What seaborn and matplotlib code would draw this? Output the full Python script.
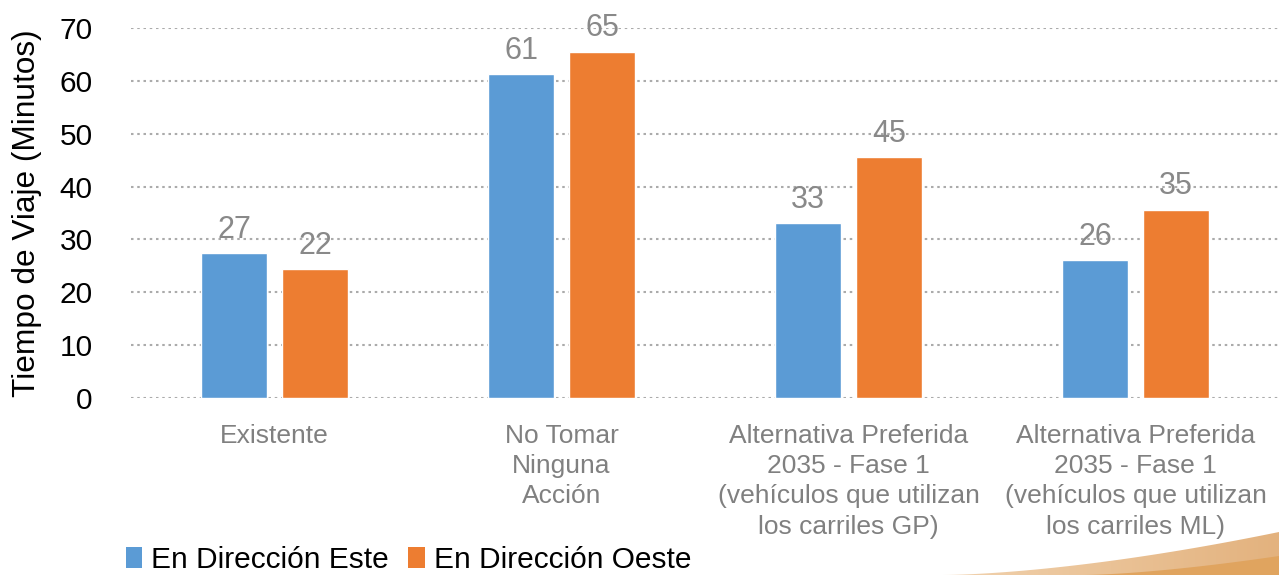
"""Travel time bar chart (Tiempo de Viaje) recreated with seaborn."""

import matplotlib
matplotlib.use("Agg")
import matplotlib.pyplot as plt
import numpy as np
import pandas as pd
import seaborn as sns
from matplotlib.patches import Patch, Polygon

categories = [
    "Existente",
    "No Tomar\nNinguna\nAcción",
    "Alternativa Preferida\n2035 - Fase 1\n(vehículos que utilizan\nlos carriles GP)",
    "Alternativa Preferida\n2035 - Fase 1\n(vehículos que utilizan\nlos carriles ML)",
]
series = ["En Dirección Este", "En Dirección Oeste"]
este_values = [27.4, 61.3, 33.1, 26.1]
oeste_values = [24.4, 65.5, 45.6, 35.6]
este_labels = ["27", "61", "33", "26"]
oeste_labels = ["22", "65", "45", "35"]
colors = ["#5B9BD5", "#ED7D31"]

df = pd.DataFrame({
    "categoria": categories * 2,
    "serie": [series[0]] * 4 + [series[1]] * 4,
    "minutos": este_values + oeste_values,
})

sns.set_theme(style="white")
plt.rcParams["font.family"] = ["Liberation Sans", "DejaVu Sans"]

fig = plt.figure(figsize=(12.79, 5.75), dpi=100)
ax = fig.add_axes([131 / 1279, 1 - 398 / 575, 1148 / 1279, 370 / 575])

sns.barplot(
    data=df, x="categoria", y="minutos", hue="serie",
    palette=colors, width=0.564, gap=0.185, ax=ax, legend=False,
    saturation=1, errorbar=None,
)

ax.set_xlim(-0.5, 3.5)
ax.set_ylim(0, 70)
ax.set_yticks(range(0, 71, 10))
ax.yaxis.grid(True, color="#ABABAB", linestyle=(0, (1.2, 1.8)), linewidth=1.5)
ax.set_axisbelow(True)
for side in ax.spines.values():
    side.set_visible(False)

ax.tick_params(axis="y", length=0, pad=27.5, labelsize=21.5, labelcolor="black")
ax.tick_params(axis="x", length=0, pad=18.5, labelsize=19, labelcolor="#808080")
for lbl in ax.get_xticklabels():
    lbl.set_linespacing(1.33)
ax.set_xlabel("")
ax.set_ylabel("Tiempo de Viaje (Minutos)", fontsize=22.8, color="black", labelpad=13)

for container, labels in zip(ax.containers, [este_labels, oeste_labels]):
    ax.bar_label(container, labels=labels, padding=6, fontsize=22, color="#898989")

handles = [Patch(facecolor=c, edgecolor="none") for c in colors]
fig.legend(
    handles, series, loc="lower left", bbox_to_anchor=(111 / 1279, -0.024),
    ncol=2, frameon=False, fontsize=21.5, handlelength=0.55, handleheight=0.75,
    handletextpad=0.3, columnspacing=0.65, borderpad=0, labelcolor="black",
)

# decorative swoosh in the bottom-right corner
deco = fig.add_axes([0, 0, 1, 1], zorder=-1)
deco.set_xlim(0, 1279)
deco.set_ylim(575, 0)
deco.axis("off")
grad = np.linspace(0, 1, 256).reshape(1, -1)
t = np.linspace(0, 1, 60)
outer_x = 943 + 336 * t
outer_y = 575 - 43 * t ** 1.6
outer = Polygon(np.column_stack([np.r_[outer_x, 1279], np.r_[outer_y, 575]]),
                closed=True, transform=deco.transData, facecolor="none", edgecolor="none")
deco.add_patch(outer)
img = deco.imshow(grad, extent=[943, 1279, 575, 530], aspect="auto",
                  cmap=matplotlib.colors.LinearSegmentedColormap.from_list(
                      "sw", ["#F1D2AE", "#E3B27E"]))
img.set_clip_path(outer)
inner_x = 1085 + 194 * t
inner_y = 575 - 19 * t ** 1.5
deco.fill(np.r_[inner_x, 1279], np.r_[inner_y, 575], color="#E0A45F", lw=0)

fig.savefig("out.png", dpi=100)
